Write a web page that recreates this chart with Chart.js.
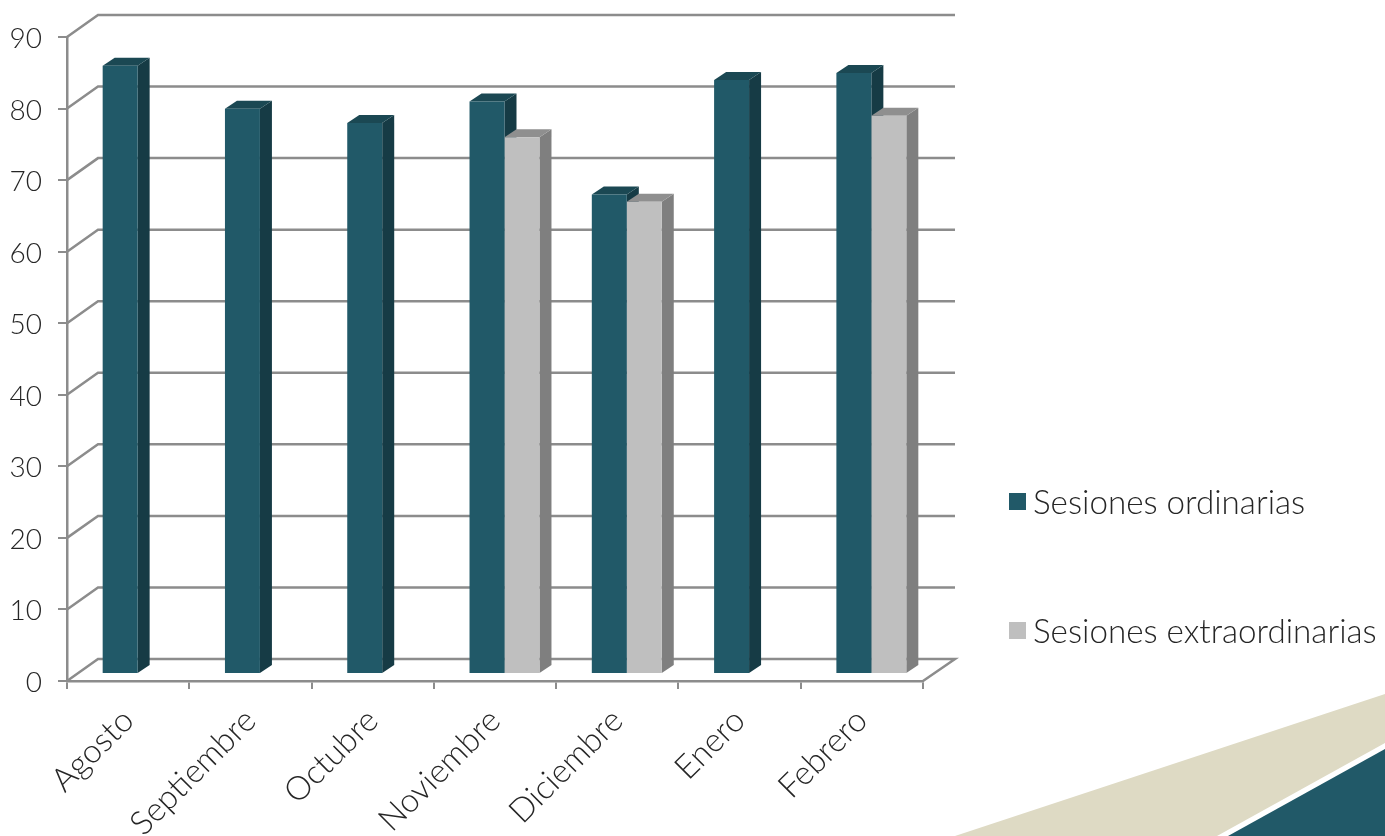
<!DOCTYPE html>
<html>
<head>
<meta charset="utf-8">
<title>Sesiones</title>
<script src="https://cdn.jsdelivr.net/npm/chart.js@4"></script>
<style>
  html, body { margin: 0; padding: 0; background: #fff; overflow: hidden; }
  #wrap { position: relative; width: 1385px; height: 836px; }
  canvas { position: absolute; left: 0; top: 0; }
  .ley { position: absolute; left: 1009px; height: 40px; white-space: nowrap;
         font: 300 33.2px Lato, sans-serif; line-height: 40px; color: #262626; }
  .ley i { position: absolute; left: 0; top: 12px; width: 17px; height: 17px; }
  .ley span { position: absolute; left: 24px; top: 0; }
</style>
</head>
<body>
<div id="wrap">
  <canvas id="grafico" width="1385" height="836"></canvas>
</div>
<script>
const meses = ['Agosto', 'Septiembre', 'Octubre', 'Noviembre', 'Diciembre', 'Enero', 'Febrero'];
const ordinarias = [85, 79, 77, 80, 67, 83, 84];
const extraordinarias = [null, null, null, 75, 66, null, 78];
const ticksY = [0, 10, 20, 30, 40, 50, 60, 70, 80, 90];
const nombres = ['Sesiones ordinarias', 'Sesiones extraordinarias'];

const colores = ['#215968', '#bfbfbf'];
const coloresLado = ['#163b45', '#7f7f7f'];
const coloresTapa = ['#1b4853', '#8f8f8f'];
const colorLinea = '#8c8c8c';
const colorTexto = '#262626';
const fuente = 'Lato, sans-serif';

// profundidad de la pared del fondo y de las barras
const fondoX = 31, fondoY = 22;
const barraX = 12, barraY = 8;
const despX = 9.5, despY = -7;

const plugin3d = {
  id: 'plugin3d',
  beforeDraw(chart) {
    // adorno de la esquina
    const c = chart.ctx;
    c.save();
    c.fillStyle = '#dedac4';
    c.beginPath();
    c.moveTo(955, 836); c.lineTo(1385, 694); c.lineTo(1385, 743); c.lineTo(1217, 836);
    c.fill();
    c.fillStyle = '#215968';
    c.beginPath();
    c.moveTo(1228, 836); c.lineTo(1385, 749); c.lineTo(1385, 836);
    c.fill();
    c.restore();
  },
  beforeDatasetsDraw(chart) {
    const c = chart.ctx;
    const a = chart.chartArea;
    const y = chart.scales.y;
    c.save();
    c.strokeStyle = colorLinea;
    c.lineWidth = 2.5;
    ticksY.forEach(v => {
      const py = y.getPixelForValue(v);
      c.beginPath();
      c.moveTo(a.left, py);
      c.lineTo(a.left + fondoX, py - fondoY);
      c.lineTo(a.right + fondoX + 1, py - fondoY);
      if (v === 0) c.lineTo(a.right, py);
      c.stroke();
    });

    c.translate(despX, despY);
    // lados y tapas, las caras frontales las pinta Chart.js encima
    chart.data.datasets.forEach((ds, i) => {
      chart.getDatasetMeta(i).data.forEach((bar, j) => {
        if (ds.data[j] == null) return;
        const der = bar.x + bar.width / 2;
        const izq = bar.x - bar.width / 2;
        c.fillStyle = coloresLado[i];
        c.beginPath();
        c.moveTo(der, bar.y); c.lineTo(der + barraX, bar.y - barraY);
        c.lineTo(der + barraX, bar.base - barraY); c.lineTo(der, bar.base);
        c.fill();
        c.fillStyle = coloresTapa[i];
        c.beginPath();
        c.moveTo(izq, bar.y); c.lineTo(izq + barraX, bar.y - barraY);
        c.lineTo(der + barraX, bar.y - barraY); c.lineTo(der, bar.y);
        c.fill();
      });
    });
  },
  afterDatasetsDraw(chart) {
    chart.ctx.restore();
  }
};

new Chart(document.getElementById('grafico'), {
  type: 'bar',
  data: {
    labels: meses,
    datasets: [
      { label: nombres[0], data: ordinarias, backgroundColor: colores[0] },
      { label: nombres[1], data: extraordinarias, backgroundColor: colores[1] }
    ]
  },
  options: {
    responsive: false,
    animation: false,
    layout: { autoPadding: false, padding: { left: 0, top: 37, right: 462, bottom: 0 } },
    datasets: { bar: { categoryPercentage: 0.572, barPercentage: 1 } },
    plugins: { legend: { display: false }, tooltip: { enabled: false } },
    scales: {
      x: {
        afterFit: s => { s.height = 155; },
        border: { color: colorLinea, width: 2.5 },
        grid: { color: colorLinea, lineWidth: 2, drawOnChartArea: false, tickLength: 8 },
        ticks: { color: colorTexto, font: { family: fuente, size: 33, weight: 300 }, minRotation: 45, maxRotation: 45, padding: 12 }
      },
      y: {
        min: ticksY[0],
        max: ticksY[ticksY.length - 1],
        afterFit: s => { s.width = 67; },
        border: { color: colorLinea, width: 2.5 },
        grid: { color: colorLinea, lineWidth: 2, drawOnChartArea: false, tickLength: 9 },
        ticks: { stepSize: 10, color: colorTexto, font: { family: fuente, size: 28, weight: 300 }, padding: 16, labelOffset: 2 }
      }
    }
  },
  plugins: [plugin3d]
});

// leyenda
const posLeyenda = [481, 610];
nombres.forEach((n, i) => {
  const d = document.createElement('div');
  d.className = 'ley';
  d.style.top = posLeyenda[i] + 'px';
  const m = document.createElement('i');
  m.style.background = colores[i];
  const t = document.createElement('span');
  t.textContent = n;
  d.appendChild(m);
  d.appendChild(t);
  document.getElementById('wrap').appendChild(d);
});
</script>
</body>
</html>
